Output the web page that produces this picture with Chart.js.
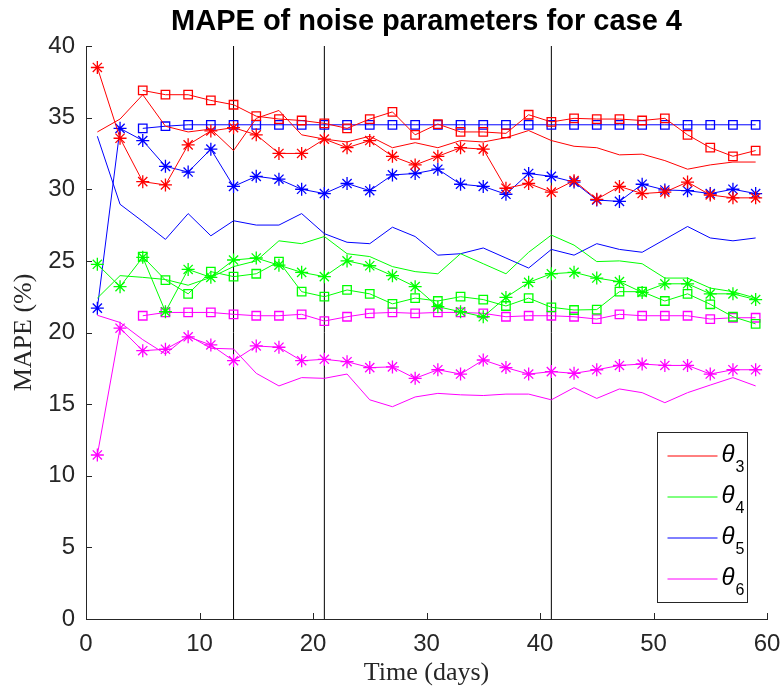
<!DOCTYPE html>
<html>
<head>
<meta charset="utf-8">
<title>MAPE of noise parameters for case 4</title>
<script src="https://cdn.jsdelivr.net/npm/chart.js@4.4.1/dist/chart.umd.min.js"></script>
<style>
  html, body { margin: 0; padding: 0; background: #fff; }
  #mapeChart { display: block; }
</style>
</head>
<body>
<canvas id="mapeChart" width="780" height="692"></canvas>
<script>
// sampling days (every other day) and the days where the square-marker runs start
const days = [1, 3, 5, 7, 9, 11, 13, 15, 17, 19, 21, 23, 25, 27, 29, 31, 33, 35, 37, 39, 41, 43, 45, 47, 49, 51, 53, 55, 57, 59];
const squareDays = [5, 7, 9, 11, 13, 15, 17, 19, 21, 23, 25, 27, 29, 31, 33, 35, 37, 39, 41, 43, 45, 47, 49, 51, 53, 55, 57, 59];

// vertical markers
const phaseDays = [13, 21, 41];

// theta_3
const theta3Line = [34.0, 34.9, 36.6, 34.4, 34.0, 34.2, 32.7, 34.95, 35.5, 33.8, 33.5, 33.3, 33.7, 32.9, 33.25, 32.9, 33.4, 33.3, 33.6, 34.1, 33.4, 33.0, 32.9, 32.4, 32.45, 32.0, 31.4, 31.7, 31.9, 31.9];
const theta3Star = [38.5, 33.56, 30.53, 30.3, 33.1, 34.07, 34.3, 33.8, 32.5, 32.5, 33.5, 32.9, 33.4, 32.3, 31.7, 32.3, 32.9, 32.8, 30.07, 30.4, 29.8, 30.6, 29.3, 30.2, 29.7, 29.8, 30.5, 29.6, 29.4, 29.4];
const theta3Square = [36.9, 36.6, 36.6, 36.2, 35.9, 35.1, 34.9, 34.8, 34.6, 34.25, 34.9, 35.4, 33.8, 34.55, 34.0, 34.0, 33.9, 35.2, 34.7, 34.95, 34.9, 34.9, 34.8, 34.95, 33.8, 32.9, 32.3, 32.7];

// theta_4
const theta4Line = [22.4, 23.97, 23.85, 23.7, 23.3, 23.85, 24.6, 25.0, 26.4, 26.2, 26.7, 25.5, 25.3, 24.6, 24.25, 24.1, 25.5, 24.8, 24.1, 25.6, 26.8, 26.1, 24.95, 25.0, 24.8, 23.8, 23.8, 23.1, 22.85, 22.4];
const theta4Star = [24.76, 23.2, 25.25, 21.45, 24.4, 23.85, 25.06, 25.2, 24.7, 24.2, 23.9, 25.0, 24.66, 23.97, 23.2, 21.8, 21.45, 21.1, 22.45, 23.5, 24.1, 24.2, 23.8, 23.55, 22.8, 23.4, 23.4, 22.7, 22.7, 22.3];
const theta4Square = [25.3, 23.66, 22.7, 24.25, 23.9, 24.1, 24.95, 22.85, 22.5, 22.97, 22.7, 22.0, 22.4, 22.2, 22.5, 22.3, 21.85, 22.4, 21.76, 21.57, 21.6, 22.85, 22.85, 22.2, 22.7, 21.97, 21.1, 20.6];

// theta_5
const theta5Line = [33.7, 28.95, 27.75, 26.5, 28.3, 26.75, 27.8, 27.5, 27.5, 28.3, 26.9, 26.3, 26.2, 27.35, 26.7, 25.4, 25.5, 25.9, 25.2, 24.5, 25.8, 25.4, 26.2, 25.8, 25.6, 26.5, 27.4, 26.6, 26.4, 26.6];
const theta5Star = [21.7, 34.25, 33.4, 31.6, 31.2, 32.8, 30.2, 30.9, 30.7, 30.0, 29.7, 30.4, 29.9, 31.0, 31.1, 31.4, 30.35, 30.2, 29.65, 31.1, 30.9, 30.5, 29.25, 29.15, 30.35, 29.95, 29.9, 29.7, 30.0, 29.7];
const theta5Square = [34.25, 34.4, 34.5, 34.5, 34.5, 34.5, 34.5, 34.5, 34.5, 34.5, 34.5, 34.5, 34.5, 34.5, 34.5, 34.5, 34.5, 34.5, 34.5, 34.5, 34.5, 34.5, 34.5, 34.5, 34.5, 34.5, 34.5, 34.5];

// theta_6
const theta6Line = [21.2, 20.7, 19.5, 18.5, 19.8, 18.9, 18.85, 17.15, 16.27, 16.85, 16.8, 17.1, 15.3, 14.82, 15.5, 15.75, 15.65, 15.6, 15.7, 15.7, 15.3, 16.15, 15.4, 16.06, 15.8, 15.1, 15.8, 16.33, 16.85, 16.27];
const theta6Star = [11.45, 20.3, 18.73, 18.83, 19.7, 19.13, 18.03, 19.06, 18.97, 18.03, 18.13, 17.96, 17.55, 17.6, 16.8, 17.4, 17.1, 18.08, 17.55, 17.1, 17.27, 17.15, 17.4, 17.7, 17.8, 17.7, 17.7, 17.1, 17.4, 17.4];
const theta6Square = [21.17, 21.4, 21.4, 21.4, 21.27, 21.17, 21.17, 21.27, 20.8, 21.1, 21.34, 21.4, 21.34, 21.4, 21.4, 21.34, 21.1, 21.17, 21.17, 21.1, 20.94, 21.27, 21.17, 21.17, 21.17, 20.94, 21.03, 21.03];

const paramNames = ['3', '4', '5', '6'];
const paramColors = ['#ff0000', '#00ff00', '#0000ff', '#ff00ff'];

const xTicks = [0, 10, 20, 30, 40, 50, 60];
const yTicks = [0, 5, 10, 15, 20, 25, 30, 35, 40];

const axisColor = '#262626';

function toPoints(xs, ys) {
    return ys.map((y, i) => ({ x: xs[i], y: y }));
}

function series(xs, ys, color, marker) {
    const ds = {
        data: toPoints(xs, ys),
        borderColor: color,
        backgroundColor: 'transparent',
        borderWidth: 1,
        tension: 0,
        pointRadius: 0,
        pointHoverRadius: 0
    };
    if (marker === 'star') {
        ds.pointStyle = 'star';
        ds.pointRadius = 6.5;
        ds.pointBorderWidth = 1.3;
        ds.pointBorderColor = color;
    } else if (marker === 'rect') {
        ds.pointStyle = 'rect';
        ds.pointRadius = 6;
        ds.pointBorderWidth = 1.3;
        ds.pointBorderColor = color;
        ds.pointBackgroundColor = 'transparent';
    }
    return ds;
}

const lines = [theta3Line, theta4Line, theta5Line, theta6Line];
const stars = [theta3Star, theta4Star, theta5Star, theta6Star];
const squares = [theta3Square, theta4Square, theta5Square, theta6Square];

const datasets = [];
for (let k = 0; k < 4; k++) {
    datasets.push(series(days, lines[k], paramColors[k], null));
}
for (let k = 0; k < 4; k++) {
    datasets.push(series(days, stars[k], paramColors[k], 'star'));
    datasets.push(series(squareDays, squares[k], paramColors[k], 'rect'));
}
phaseDays.forEach(d => {
    datasets.push({
        data: [{ x: d, y: yTicks[0] }, { x: d, y: yTicks[yTicks.length - 1] }],
        borderColor: '#000000',
        borderWidth: 1,
        pointRadius: 0,
        pointHoverRadius: 0
    });
});

// MATLAB-style ticks pointing into the axes
const inwardTicks = {
    id: 'inwardTicks',
    afterDraw(chart) {
        const ctx = chart.ctx;
        const area = chart.chartArea;
        const xs = chart.scales.x, ys = chart.scales.y;
        ctx.save();
        ctx.strokeStyle = axisColor;
        ctx.lineWidth = 1;
        ctx.beginPath();
        xTicks.forEach(v => {
            const px = Math.round(xs.getPixelForValue(v)) + 0.5;
            ctx.moveTo(px, area.bottom);
            ctx.lineTo(px, area.bottom - 6);
        });
        yTicks.forEach(v => {
            const py = Math.round(ys.getPixelForValue(v)) + 0.5;
            ctx.moveTo(area.left, py);
            ctx.lineTo(area.left + 6, py);
        });
        ctx.stroke();
        ctx.restore();
    }
};

// legend box in the lower right corner, one line sample per parameter
const thetaLegend = {
    id: 'thetaLegend',
    afterDraw(chart) {
        const ctx = chart.ctx;
        const area = chart.chartArea;
        const boxW = 90, boxH = 170;
        const right = Math.round(area.right - 20) + 0.5;
        const bottom = Math.round(area.bottom - 17) + 0.5;
        const left = right - boxW, top = bottom - boxH;
        ctx.save();
        ctx.fillStyle = '#ffffff';
        ctx.fillRect(left, top, boxW, boxH);
        ctx.strokeStyle = axisColor;
        ctx.lineWidth = 1;
        ctx.strokeRect(left, top, boxW, boxH);
        paramNames.forEach((name, i) => {
            const y = top + 23.5 + i * 41;
            ctx.strokeStyle = paramColors[i];
            ctx.beginPath();
            ctx.moveTo(left + 10, y);
            ctx.lineTo(left + 60, y);
            ctx.stroke();
            ctx.fillStyle = '#000000';
            ctx.textBaseline = 'alphabetic';
            ctx.textAlign = 'left';
            ctx.font = 'italic 24px "Liberation Sans"';
            ctx.fillText('\u03B8', left + 64, y + 6);
            const w = ctx.measureText('\u03B8').width;
            ctx.font = '16px "Liberation Sans"';
            ctx.fillText(name, left + 64 + w + 1, y + 16);
        });
        ctx.restore();
    }
};

const ctx = document.getElementById('mapeChart').getContext('2d');
const mapeChart = new Chart(ctx, {
    type: 'line',
    data: { datasets: datasets },
    options: {
        responsive: false,
        animation: false,
        events: [],
        layout: { padding: { left: 0, right: 0, top: 0, bottom: 0 } },
        scales: {
            x: {
                type: 'linear',
                min: xTicks[0],
                max: xTicks[xTicks.length - 1],
                // fixed axis box: the "60" label may hang over the right edge
                afterFit: s => { s.height = 73; s.paddingLeft = 0; s.paddingRight = 13; },
                afterBuildTicks: s => { s.ticks = xTicks.map(v => ({ value: v })); },
                grid: { display: false, drawTicks: false },
                border: { display: true, color: axisColor, width: 1 },
                ticks: {
                    padding: 11,
                    color: axisColor,
                    maxRotation: 0,
                    font: { family: '"Liberation Sans"', size: 24 }
                },
                title: {
                    display: true,
                    text: 'Time (days)',
                    color: axisColor,
                    padding: { top: 0, bottom: 3 },
                    font: { family: '"Liberation Serif"', size: 26 }
                }
            },
            y: {
                type: 'linear',
                min: yTicks[0],
                max: yTicks[yTicks.length - 1],
                afterFit: s => { s.width = 86; },
                afterBuildTicks: s => { s.ticks = yTicks.map(v => ({ value: v })); },
                grid: { display: false, drawTicks: false },
                border: { display: true, color: axisColor, width: 1 },
                ticks: {
                    padding: 11,
                    color: axisColor,
                    font: { family: '"Liberation Sans"', size: 24 }
                },
                title: {
                    display: true,
                    text: 'MAPE (%)',
                    color: axisColor,
                    padding: { top: 9, bottom: 0 },
                    font: { family: '"Liberation Serif"', size: 26 }
                }
            }
        },
        plugins: {
            legend: { display: false },
            tooltip: { enabled: false },
            title: {
                display: true,
                fullSize: false,
                text: 'MAPE of noise parameters for case 4',
                color: '#000000',
                padding: { top: 5, bottom: 6.2 },
                font: { family: '"Liberation Sans"', size: 29, weight: 'bold' }
            }
        }
    },
    plugins: [inwardTicks, thetaLegend]
});
</script>
</body>
</html>
